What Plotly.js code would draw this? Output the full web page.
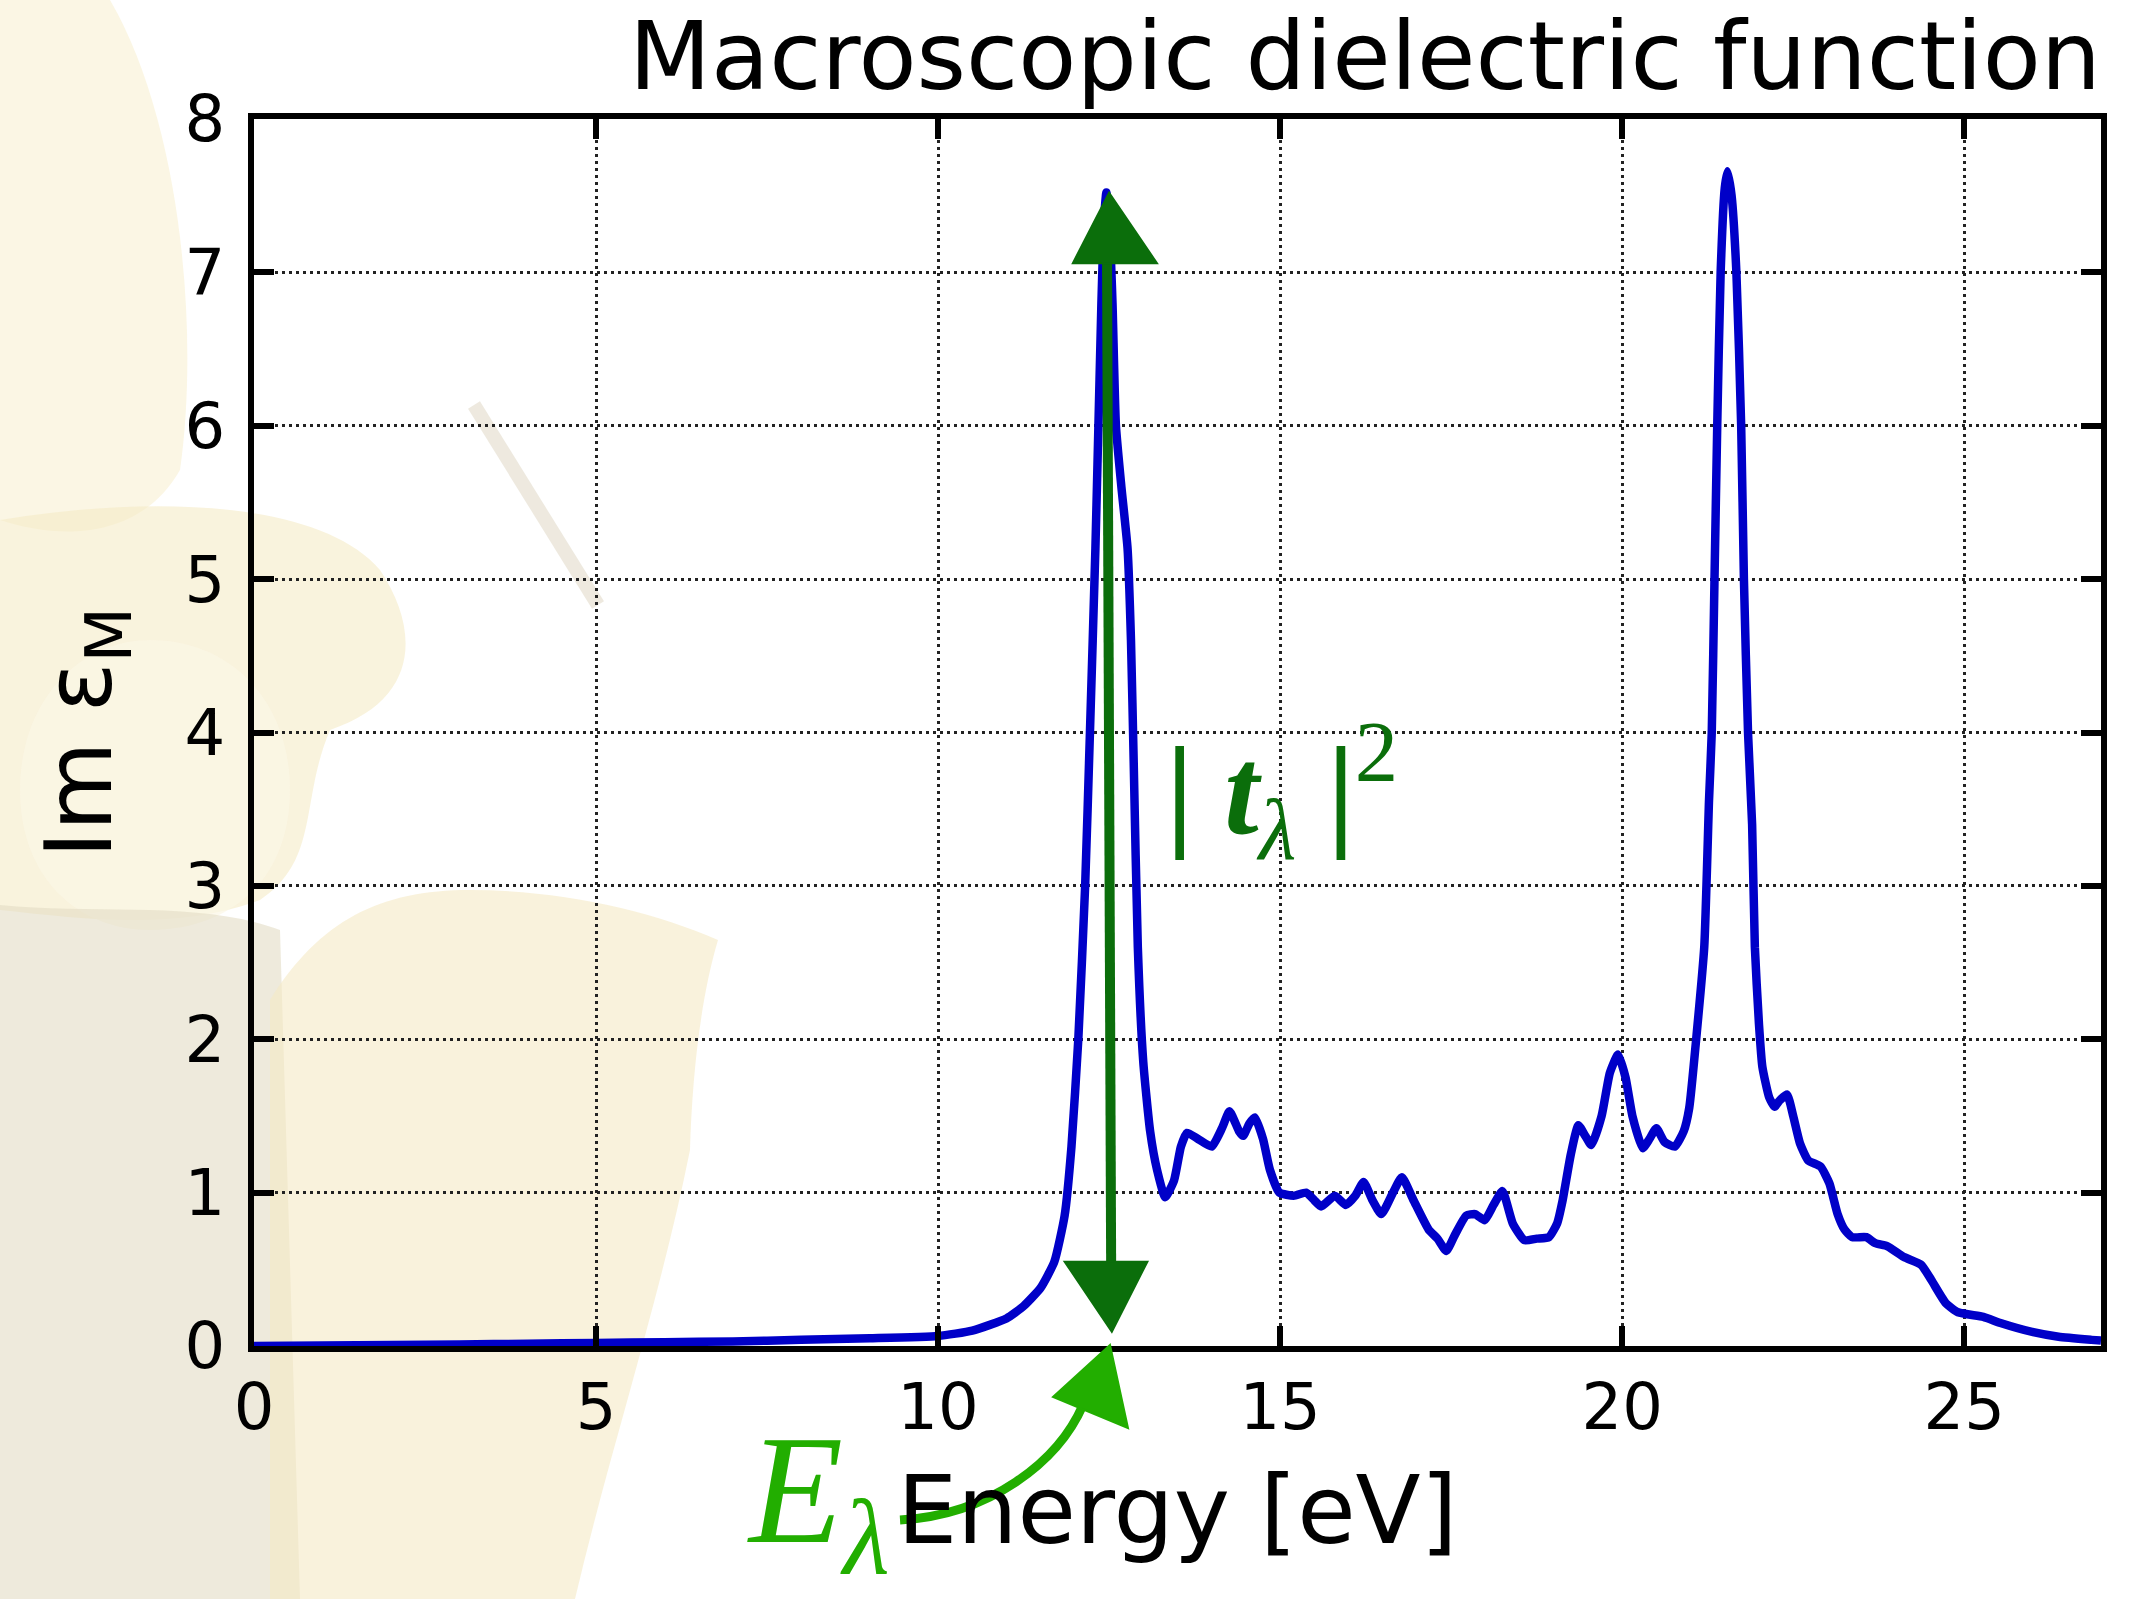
<!DOCTYPE html>
<html>
<head>
<meta charset="utf-8">
<script src="https://cdn.plot.ly/plotly-3.0.1.min.js"></script>
<style>
  html, body { margin: 0; padding: 0; background: #ffffff; }
  #chart { width: 2153px; height: 1599px; }
</style>
</head>
<body>
<div id="chart"></div>
<script>
// ---- Data ----
const energy = [0, 1, 2, 3, 4, 5, 6, 7, 8, 9, 10, 10.5, 11.0, 11.25, 11.5, 11.7, 11.85, 11.95, 12.05, 12.15, 12.22, 12.3, 12.36, 12.42, 12.46, 12.5, 12.55, 12.6, 12.68, 12.77, 12.82, 12.86, 12.92, 13.0, 13.1, 13.2, 13.32, 13.45, 13.55, 13.64, 13.8, 14.0, 14.15, 14.26, 14.4, 14.46, 14.55, 14.63, 14.75, 14.85, 14.99, 15.2, 15.38, 15.5, 15.6, 15.8, 15.96, 16.1, 16.22, 16.35, 16.48, 16.65, 16.78, 16.95, 17.17, 17.3, 17.43, 17.55, 17.72, 17.85, 17.99, 18.12, 18.25, 18.4, 18.57, 18.75, 18.93, 19.05, 19.13, 19.25, 19.36, 19.46, 19.55, 19.7, 19.82, 19.94, 20.05, 20.15, 20.3, 20.4, 20.5, 20.62, 20.77, 20.9, 20.98, 21.08, 21.2, 21.27, 21.31, 21.35, 21.39, 21.44, 21.5, 21.54, 21.6, 21.67, 21.74, 21.78, 21.84, 21.9, 21.94, 22.0, 22.05, 22.15, 22.23, 22.3, 22.41, 22.5, 22.6, 22.72, 22.9, 23.03, 23.15, 23.25, 23.36, 23.57, 23.7, 23.88, 24.12, 24.37, 24.52, 24.73, 24.91, 25.28, 25.53, 26.01, 26.38, 26.86, 27.0];
const imEps = [0.0, 0.003, 0.006, 0.01, 0.015, 0.02, 0.025, 0.03, 0.04, 0.05, 0.065, 0.1, 0.18, 0.26, 0.38, 0.55, 0.85, 1.3, 2.0, 3.0, 4.0, 5.2, 6.3, 7.3, 7.52, 7.35, 6.8, 6.0, 5.6, 5.2, 4.6, 3.8, 2.6, 1.85, 1.4, 1.15, 0.97, 1.08, 1.3, 1.39, 1.35, 1.3, 1.42, 1.53, 1.4, 1.37, 1.45, 1.49, 1.35, 1.15, 1.0, 0.98, 1.0, 0.95, 0.91, 0.98, 0.92, 0.98, 1.07, 0.95, 0.86, 1.0, 1.1, 0.95, 0.76, 0.7, 0.62, 0.72, 0.85, 0.86, 0.82, 0.92, 1.01, 0.8, 0.69, 0.7, 0.71, 0.8, 0.95, 1.25, 1.44, 1.37, 1.31, 1.5, 1.78, 1.9, 1.75, 1.5, 1.29, 1.35, 1.42, 1.33, 1.3, 1.4, 1.55, 1.99, 2.6, 3.56, 4.0, 5.0, 6.0, 7.0, 7.55, 7.66, 7.5, 7.0, 6.0, 5.0, 4.0, 3.4, 2.6, 2.1, 1.82, 1.62, 1.56, 1.6, 1.64, 1.5, 1.32, 1.21, 1.17, 1.06, 0.86, 0.76, 0.71, 0.71, 0.67, 0.65, 0.58, 0.53, 0.43, 0.28, 0.22, 0.19, 0.15, 0.09, 0.06, 0.04, 0.035];
const xTickVals = [0, 5, 10, 15, 20, 25];
const yTickVals = [0, 1, 2, 3, 4, 5, 6, 7, 8];

// ---- Geometry helpers for decorative paper-referenced shapes ----
const FW = 2153, FH = 1599;
const M = { l: 254, r: 52, t: 119, b: 253 };
const PW = FW - M.l - M.r, PH = FH - M.t - M.b;
function toPaper(X, Y) {
  return ((X - M.l) / PW).toFixed(5) + ',' + ((FH - M.b - Y) / PH).toFixed(5);
}
function pxPath(str) {
  const tok = str.trim().split(/\s+/);
  let out = [], nums = [];
  for (const t of tok) {
    if (/^[A-Za-z]$/.test(t)) { out.push(t); }
    else {
      nums.push(parseFloat(t));
      if (nums.length === 2) { out.push(toPaper(nums[0], nums[1])); nums = []; }
    }
  }
  return out.join(' ');
}
function decor(d, fill, op) {
  return { type: 'path', xref: 'paper', yref: 'paper', layer: 'below',
           path: pxPath(d), fillcolor: fill, opacity: op, line: { width: 0 } };
}

const darkGreen = '#0b6e0b';
const lightGreen = '#22ae00';

const shapes = [
  // faded flower background (left side)
  decor('M 0 0 L 110 0 C 180 120 200 330 180 470 C 140 540 60 540 0 520 Z', '#f8f0d2', 0.6),
  decor('M 0 520 C 150 495 320 500 380 570 C 420 630 420 700 330 730 C 300 800 320 860 260 900 C 180 930 90 920 0 910 Z', '#f5ebc6', 0.6),
  decor('M 20 790 C 20 700 80 640 150 640 C 230 640 290 700 290 790 C 290 880 230 930 150 930 C 80 930 20 880 20 790 Z', '#fbf7e6', 0.7),
  decor('M 0 905 C 100 915 200 900 280 930 L 300 1599 L 0 1599 Z', '#e3dcc4', 0.6),
  decor('M 270 1000 C 320 920 380 890 470 890 C 560 890 650 910 718 940 C 700 1000 692 1080 690 1150 C 660 1300 610 1450 575 1599 L 270 1599 Z', '#f5eac5', 0.6),
  { type: 'path', xref: 'paper', yref: 'paper', layer: 'below',
    path: pxPath('M 474 405 L 598 605'), opacity: 0.6, line: { color: '#e3dccb', width: 14 } },

  // dark green double arrow |t_lambda|^2 (data coordinates)
  { type: 'line', xref: 'x', yref: 'y', x0: 12.47, y0: 7.06, x1: 12.53, y1: 0.55,
    line: { color: darkGreen, width: 10 } },
  { type: 'path', xref: 'x', yref: 'y', path: 'M 12.5,7.52 L 11.97,7.06 L 13.2,7.06 Z',
    fillcolor: darkGreen, line: { color: darkGreen, width: 2 } },
  { type: 'path', xref: 'x', yref: 'y', path: 'M 11.85,0.55 L 13.06,0.55 L 12.54,0.093 Z',
    fillcolor: darkGreen, line: { color: darkGreen, width: 2 } },

  // light green curved arrow from E_lambda to the axis
  { type: 'path', xref: 'paper', yref: 'paper',
    path: pxPath('M 900 1520 C 990 1515 1058 1462 1083 1405'),
    line: { color: lightGreen, width: 9 } },
  { type: 'path', xref: 'paper', yref: 'paper',
    path: pxPath('M 1110 1345 L 1053 1397 L 1128 1428 Z'),
    fillcolor: lightGreen, line: { color: lightGreen, width: 2 } }
];

const annotations = [
  { xref: 'x', yref: 'y', x: 13.3, y: 3.62, xanchor: 'left', yanchor: 'middle',
    text: '<b>|</b> <b><i>t</i></b><sub><i>λ</i></sub> <b>|</b><sup>2</sup>',
    showarrow: false,
    font: { family: 'Liberation Serif', size: 124, color: darkGreen } },
  { xref: 'paper', yref: 'paper', x: (745 - M.l) / PW, y: (FH - M.b - 1599) / PH,
    xanchor: 'left', yanchor: 'bottom',
    text: '<i>E</i><sub><i>λ</i></sub>', showarrow: false,
    font: { family: 'Liberation Serif', size: 154, color: lightGreen } }
];

const axisCommon = {
  showline: true, linecolor: '#000', linewidth: 6, mirror: 'allticks',
  ticks: 'inside', ticklen: 20, tickwidth: 6, tickcolor: '#000',
  showgrid: true, gridcolor: '#222222', gridwidth: 3, griddash: '3px,4px',
  zeroline: false, fixedrange: true,
  tickfont: { family: 'DejaVu Sans', size: 64, color: '#000' }
};

const trace = {
  type: 'scatter', mode: 'lines', x: energy, y: imEps,
  line: { color: '#0000c8', width: 8.5, shape: 'spline', smoothing: 0.5 },
  hoverinfo: 'skip', showlegend: false
};

const layout = {
  width: FW, height: FH,
  margin: M,
  paper_bgcolor: '#ffffff',
  plot_bgcolor: 'rgba(0,0,0,0)',
  title: {
    text: 'Macroscopic dielectric function',
    font: { family: 'DejaVu Sans', size: 95, color: '#000' },
    x: 1, xref: 'paper', xanchor: 'right',
    y: 0.965, yref: 'container', yanchor: 'middle'
  },
  xaxis: Object.assign({}, axisCommon, {
    range: [0, 27], tickvals: xTickVals, ticktext: xTickVals.map(String),
    ticklabelstandoff: 0,
    title: { text: 'Energy [eV]', font: { family: 'DejaVu Sans', size: 95, color: '#000' }, standoff: 36 }
  }),
  yaxis: Object.assign({}, axisCommon, {
    range: [0, 8], tickvals: yTickVals, ticktext: yTickVals.map(String),
    ticklabelstandoff: 10,
    title: { text: 'Im ε<sub>M</sub>', font: { family: 'DejaVu Sans', size: 92, color: '#000' }, standoff: 44 }
  }),
  shapes: shapes,
  annotations: annotations
};

Plotly.newPlot('chart', [trace], layout, { displayModeBar: false, staticPlot: true });
</script>
</body>
</html>
